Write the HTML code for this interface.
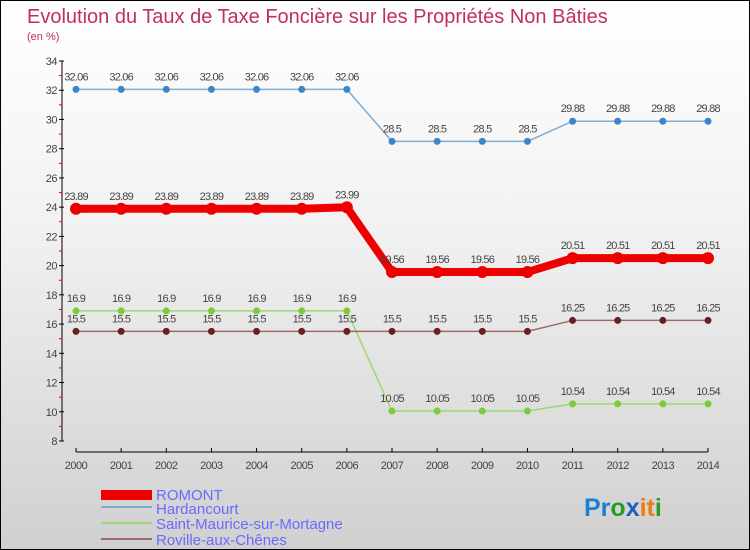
<!DOCTYPE html>
<html><head><meta charset="utf-8"><style>
body{margin:0}
#c{width:748px;height:548px;border:1px solid #000;background:linear-gradient(#fff 0%,#f2f2f2 40%,#d0d0d0 100%);position:relative;overflow:hidden;font-family:"Liberation Sans",sans-serif}
</style></head><body>
<div id="c">
<svg id="s" width="748" height="548" xmlns="http://www.w3.org/2000/svg">
<text x="26" y="22" font-size="20" fill="#c0305a">Evolution du Taux de Taxe Foncière sur les Propriétés Non Bâties</text>
<text x="26" y="39" font-size="11" fill="#c0305a">(en %)</text>
<g id="axes"></g><g id="series"></g>
<g>
<rect x="100" y="489" width="51" height="10" fill="#e00"/>
<text x="155" y="499" font-size="15" fill="#6a6aff">ROMONT</text>
<line x1="100" y1="506" x2="151" y2="506" stroke="#7aaed6" stroke-width="2"/>
<text x="155" y="513" font-size="15" fill="#6a6aff">Hardancourt</text>
<line x1="100" y1="522" x2="151" y2="522" stroke="#9ed873" stroke-width="2"/>
<text x="155" y="528" font-size="15" fill="#6a6aff">Saint-Maurice-sur-Mortagne</text>
<line x1="100" y1="538" x2="151" y2="538" stroke="#a06a6a" stroke-width="2"/>
<text x="155" y="544" font-size="15" fill="#6a6aff">Roville-aux-Chênes</text>
</g>
<text x="583" y="515" font-size="25" font-weight="bold"><tspan fill="#1a7fd0">Pr</tspan><tspan fill="#2a9a2a">o</tspan><tspan fill="#1a60c0">x</tspan><tspan fill="#f07a10">it</tspan><tspan fill="#2a9a2a">i</tspan></text>
</svg></div>
<script>
const years=[2000,2001,2002,2003,2004,2005,2006,2007,2008,2009,2010,2011,2012,2013,2014];
const romont=[23.89,23.89,23.89,23.89,23.89,23.89,23.99,19.56,19.56,19.56,19.56,20.51,20.51,20.51,20.51];
const hardancourt=[32.06,32.06,32.06,32.06,32.06,32.06,32.06,28.5,28.5,28.5,28.5,29.88,29.88,29.88,29.88];
const saintMaurice=[16.9,16.9,16.9,16.9,16.9,16.9,16.9,10.05,10.05,10.05,10.05,10.54,10.54,10.54,10.54];
const roville=[15.5,15.5,15.5,15.5,15.5,15.5,15.5,15.5,15.5,15.5,15.5,16.25,16.25,16.25,16.25];
const yTicks=[8,10,12,14,16,18,20,22,24,26,28,30,32,34];
const NS="http://www.w3.org/2000/svg";
const X=i=>75+i*(632/14), Y=v=>60+(34-v)*(380/26);
function mk(t,a,p){const e=document.createElementNS(NS,t);for(const k in a)e.setAttribute(k,a[k]);p.appendChild(e);return e;}
const ax=document.getElementById('axes'),sg=document.getElementById('series');
let l=mk('line',{x1:61,y1:Y(34),x2:61,y2:Y(8),stroke:'#000'},ax);


l=mk('line',{x1:75,y1:451,x2:707,y2:451,stroke:'#000'},ax);


yTicks.forEach(v=>{
 const t=mk('line',{x1:58,y1:Y(v),x2:63,y2:Y(v),stroke:'#000'},ax);
 
 
 if(v<34){const r=mk('line',{x1:58,y1:Y(v+1),x2:61,y2:Y(v+1),stroke:'#e00'},ax);
 
 }
 const tx=mk('text',{x:56,y:Y(v)+4,'font-size':11,fill:'#444','text-anchor':'end','letter-spacing':'-0.5'},ax);tx.textContent=v;
 
 
});
years.forEach((yr,i)=>{
 const t=mk('line',{x1:X(i),y1:447,x2:X(i),y2:451,stroke:'#000'},ax);
 
 
 const tx=mk('text',{x:X(i),y:468,'font-size':11,fill:'#444','text-anchor':'middle','letter-spacing':'-0.5'},ax);tx.textContent=yr;
 
 
});
function series(data,name,col,w,r,dot){
 const p=mk('polyline',{points:data.map((v,i)=>X(i)+','+Y(v)).join(' '),fill:'none',stroke:col,'stroke-width':w,'stroke-linejoin':'round'},sg);
 
 
 data.forEach((v,i)=>{
  const c=mk('circle',{cx:X(i),cy:Y(v),r:r,fill:dot},sg);
  
  
  const t=mk('text',{x:X(i),y:Y(v)-9,'font-size':11,fill:'#444','text-anchor':'middle','letter-spacing':'-0.8'},sg);t.textContent=v;
  
  
 });
}
series(hardancourt,'hardancourt','#7aaed6',1.5,3.5,'#3a86c6');
series(saintMaurice,'saint-maurice','#9ed873',1.5,3.5,'#7acc3a');
series(roville,'roville','#a06a6a',1.5,3.5,'#6a2020');
series(romont,'romont','#e00',8,6,'#e00');
</script>
</body></html>
